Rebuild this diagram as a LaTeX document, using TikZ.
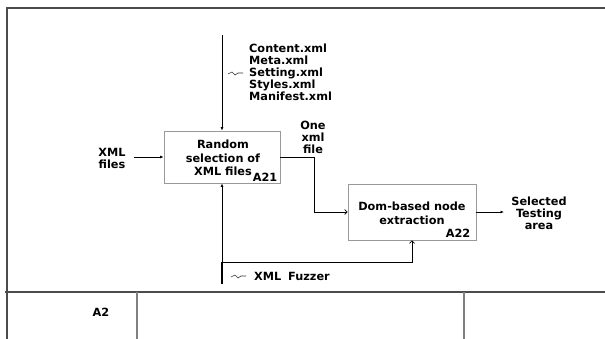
\documentclass[tikz,border=0pt]{standalone}
\usepackage{fontspec}
\setmainfont{DejaVu Sans}
\usetikzlibrary{arrows.meta}
\begin{document}
\begin{tikzpicture}[x=1pt,y=-1pt,
  font=\bfseries\fontsize{11.3}{12}\selectfont,
  frame/.style={draw=black!70, line width=1.1pt},
  divider/.style={draw=black!50, line width=1.8pt},
  proc/.style={draw=black!40, line width=0.9pt, inner sep=0pt},
  lbl/.style={align=center, inner sep=0pt},
  conn/.style={draw, line width=0.7pt, -{Latex[length=3.5pt,width=3pt]}},
  openconn/.style={draw, line width=0.7pt, -{Straight Barb[length=2.5pt,width=5pt]}},
  squig/.style={draw=black!80, line width=0.6pt}
]
\useasboundingbox (0,0) rectangle (605,339);

% frame
\draw[frame] (7,339) -- (7,8) -- (605,8);
\draw[frame] (5,292) -- (605,292);
\draw[divider] (137,292) -- (137,339);
\draw[divider] (464,292) -- (464,339);
\node[lbl] (a2) at (101,312) {A2};

% boxes
\node[proc, minimum width=116pt, minimum height=52pt] (a21) at (222,157) {};
\node[lbl, font=\bfseries\fontsize{11.3}{13.3}\selectfont] (a21t) at (223,158) {Random\\selection of\\XML files};
\node[anchor=south east, inner xsep=3pt, inner ysep=2pt] (a21l) at (a21.south east) {A21};

\node[proc, minimum width=128pt, minimum height=56pt] (a22) at (412,212) {};
\node[lbl, font=\bfseries\fontsize{11.3}{13.8}\selectfont] (a22t) at (412,213) {Dom-based node\\extraction};
\node[anchor=south east, inner xsep=6pt, inner ysep=3pt] (a22l) at (a22.south east) {A22};

% control
\coordinate (ctrl) at (222,35);
\draw[conn] (ctrl) -- (ctrl |- a21.north);
\node[lbl, align=left, anchor=west] (ctl) at (249,72) {Content.xml\\Meta.xml\\Setting.xml\\Styles.xml\\Manifest.xml};
\draw[squig] (228,74) -- (232,72) -- (235,75) -- (238,73) -- (243,73);

% input
\node[lbl] (xmlf) at (112,158) {XML\\files};
\coordinate (inp) at (134,157);
\draw[conn] (inp) -- (inp -| a21.west);

% A21 -> A22
\node[lbl] (onex) at (313,137) {One\\xml\\file};
\coordinate (bend) at (314,157);
\draw[openconn] (a21.east) -- (bend) |- (a22.west);

% output
\coordinate (outp) at (504,212);
\draw[conn] (a22.east) -- (outp);
\node[lbl] (sel) at (539,213) {Selected\\Testing\\area};

% mechanism
\coordinate (mech) at (222,284);
\coordinate (mj) at (222,262);
\draw[line width=1.8pt] (mech) -- (mj);
\draw[conn] (mj) -- (a21.south);
\draw[openconn] (mj) -| (a22.south);
\draw[squig] (231,277) -- (235,275) -- (238,278) -- (241,276) -- (246,276);
\node[lbl, anchor=west] (fuzz) at (254,276) {XML\hspace{0.6em}Fuzzer};
\end{tikzpicture}
\end{document}
